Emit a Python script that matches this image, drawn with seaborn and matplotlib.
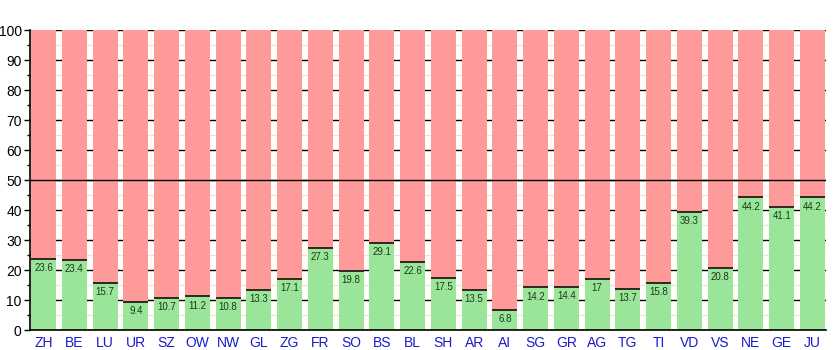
import matplotlib
matplotlib.use("Agg")
import matplotlib.pyplot as plt
from matplotlib.ticker import MultipleLocator
import seaborn as sns
import pandas as pd

cantons = ["ZH", "BE", "LU", "UR", "SZ", "OW", "NW", "GL", "ZG", "FR", "SO", "BS", "BL",
           "SH", "AR", "AI", "SG", "GR", "AG", "TG", "TI", "VD", "VS", "NE", "GE", "JU"]
yes_share = [23.6, 23.4, 15.7, 9.4, 10.7, 11.2, 10.8, 13.3, 17.1, 27.3, 19.8, 29.1, 22.6,
             17.5, 13.5, 6.8, 14.2, 14.4, 17, 13.7, 15.8, 39.3, 20.8, 44.2, 41.1, 44.2]
total = [100] * len(cantons)

df = pd.DataFrame({"canton": cantons, "yes": yes_share, "total": total})

sns.set_theme(style="white")
plt.rcParams["font.family"] = ["Liberation Sans", "DejaVu Sans"]

fig = plt.figure(figsize=(8.35, 3.5), dpi=100)
ax = fig.add_axes([30 / 835, 20 / 350, 796 / 835, 300 / 350])
ax.set_facecolor("#fffef8")

red = "#ff9a9a"
green = "#9ae59a"
bw = 0.81

sns.barplot(data=df, x="canton", y="total", color=red, width=bw, saturation=1,
            linewidth=0, ax=ax, zorder=2)
n_red = len(ax.patches)
sns.barplot(data=df, x="canton", y="yes", color=green, width=bw, saturation=1,
            linewidth=0, ax=ax, zorder=3)

# dividing line and value label on top of each green bar
for p, v in zip(ax.patches[n_red:], yes_share):
    x0, w = p.get_x(), p.get_width()
    ax.hlines(v, x0, x0 + w, color="black", linewidth=1.1, zorder=4)
    ax.annotate(f"{v:g}", (x0 + w / 2, v), xytext=(0, -3), textcoords="offset points",
                ha="center", va="top", fontsize=7, color="#1c3a1c", zorder=5)

ax.set_xlim(-0.44, len(cantons) - 0.56)
ax.set_ylim(0, 100)
ax.yaxis.set_major_locator(MultipleLocator(10))
ax.yaxis.set_minor_locator(MultipleLocator(5))
ax.grid(axis="y", which="major", color="black", linewidth=1.0, zorder=0)
ax.grid(axis="y", which="minor", color="#e4e4e4", linewidth=0.8, zorder=0)
ax.set_axisbelow(True)
ax.axhline(50, color="black", linewidth=1.0, zorder=6)

ax.set_xlabel("")
ax.set_ylabel("")
ax.tick_params(axis="x", length=0, pad=4, labelsize=10, labelcolor="#1a1acc")
ax.tick_params(axis="y", which="major", left=True, length=4, width=1, color="black",
               pad=2, labelsize=10, labelcolor="black")
ax.tick_params(axis="y", which="minor", left=True, length=2.5, width=1, color="black")

for side in ["top", "right"]:
    ax.spines[side].set_visible(False)
for side in ["left", "bottom"]:
    ax.spines[side].set_color("black")
    ax.spines[side].set_linewidth(1.2)
    ax.spines[side].set_zorder(7)

fig.savefig("out.png", dpi=100, facecolor="white")
